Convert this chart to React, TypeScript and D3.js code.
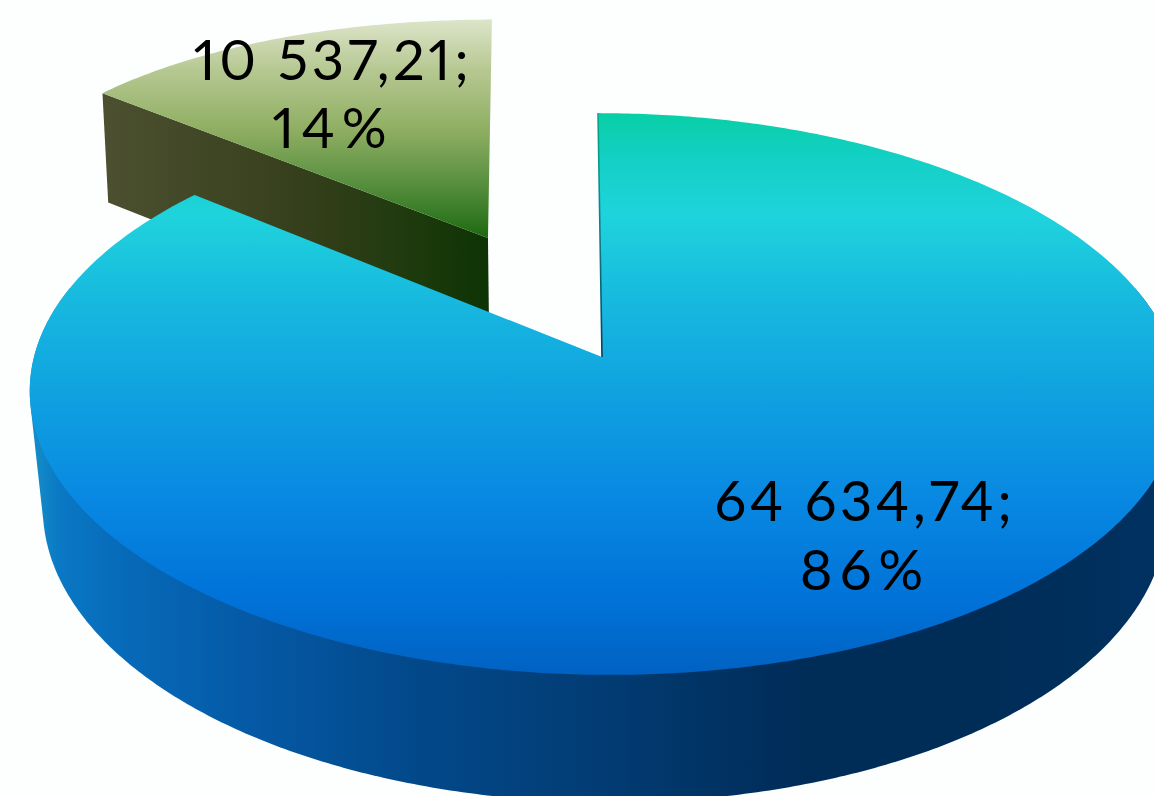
import React, { useMemo } from "react";
import * as d3 from "d3";

// Two slices of the exploded 3D pie
const categories = ["main", "other"];
const seriesValues = [64634.74, 10537.21];
const valueLabels = ["64 634,74;", "10 537,21;"];
const percentLabels = ["86%", "14%"];

const WIDTH = 1154;
const HEIGHT = 796;
const CX = 604;

type Plane = { ox: number; oy: number; ax: number; ay: number; kx: number; ky: number; skew: number };
// Upper and lower surfaces of the disc, as projective planes
const TOP: Plane = { ox: CX, oy: 357, ax: 570, ay: 276, kx: -0.1317, ky: -0.1317, skew: 6 };
const BOTTOM: Plane = { ox: CX, oy: 473, ax: 557, ay: 286, kx: -0.1317, ky: -0.1317, skew: 6 };
// The pulled-out slice is seen with a flatter horizontal perspective
const OTHER_TOP: Plane = { ox: CX, oy: 357, ax: 523, ay: 276, kx: -0.036, ky: -0.1317, skew: 0 };
const OTHER_BOTTOM: Plane = { ox: CX, oy: 476, ax: 517, ay: 286, kx: -0.036, ky: -0.1317, skew: 0 };
// How far the small slice is pulled out, in disc units
const EXPLODE = { u: -0.2255, v: -0.457 };
const APEX_NUDGE = -0.0035;

const project = (p: Plane, u: number, v: number): [number, number] => [
  p.ox + (p.ax * u) / (1 + p.kx * v) + p.skew * v,
  p.oy + (p.ay * v) / (1 + p.ky * v),
];

const rim = (p: Plane, a0: number, a1: number, shift = { u: 0, v: 0 }) => {
  const n = Math.max(2, Math.ceil(Math.abs(a1 - a0) / 0.01));
  return d3.range(n + 1).map((i) => {
    const a = a0 + ((a1 - a0) * i) / n;
    return project(p, Math.sin(a) + shift.u, -Math.cos(a) + shift.v);
  });
};

const line = d3.line<[number, number]>();
const rad = (deg: number) => (deg * Math.PI) / 180;

// Silhouette of the disc wall over an angular range: the convex hull of both rims
const wallHull = (a0: number, a1: number) => {
  const hull = d3.polygonHull([...rim(TOP, a0, a1), ...rim(BOTTOM, a0, a1)]);
  return line(hull as [number, number][])! + "Z";
};

type Stop = [number, string];
const topStops: Stop[] = [
  [113, "#08cfa6"],
  [160, "#14d0c6"],
  [215, "#1fd3dc"],
  [300, "#17b9df"],
  [400, "#0fa0e0"],
  [500, "#0888e2"],
  [600, "#0072d8"],
  [675, "#0062c2"],
];
const sideStops: Stop[] = [
  [30, "#1590c8"],
  [60, "#0a78c4"],
  [130, "#0669b8"],
  [260, "#0558a4"],
  [400, "#024a8c"],
  [600, "#023c74"],
  [800, "#002c58"],
  [1000, "#002d58"],
  [1154, "#003160"],
];
const greenTopStops: Stop[] = [
  [17, "#dfe6cc"],
  [70, "#b6c892"],
  [130, "#8fae62"],
  [185, "#568e3e"],
  [238, "#1c6a10"],
];
const greenSideStops: Stop[] = [
  [104, "#4c5030"],
  [300, "#363f1c"],
  [420, "#1c3a0c"],
  [488, "#0e3304"],
];

const Gradient = ({ id, stops, horizontal }: { id: string; stops: Stop[]; horizontal?: boolean }) => {
  const lo = stops[0][0];
  const hi = stops[stops.length - 1][0];
  const ends = horizontal ? { x1: lo, x2: hi, y1: 0, y2: 0 } : { x1: 0, x2: 0, y1: lo, y2: hi };
  return (
    <linearGradient id={id} gradientUnits="userSpaceOnUse" {...ends}>
      {stops.map(([at, color]) => (
        <stop key={at} offset={(at - lo) / (hi - lo)} stopColor={color} />
      ))}
    </linearGradient>
  );
};

export default function App() {
  const shapes = useMemo(() => {
    const arcs = d3.pie<number>().sort(null)(seriesValues);
    const main = arcs[0];
    const other = arcs[1];

    const apex = project(TOP, APEX_NUDGE, 0);
    const mainTop = line([apex, ...rim(TOP, main.startAngle, main.endAngle)])! + "Z";
    // Outer wall of the large slice, in two overlapping halves so the gap stays open
    const wallRight = wallHull(rad(75), rad(185));
    const wallLeft = wallHull(rad(175), rad(285));
    const cutEdge = line([project(TOP, 0, -1), apex])!;

    const otherApex = project(OTHER_TOP, EXPLODE.u, EXPLODE.v);
    const otherApexLow = project(OTHER_BOTTOM, EXPLODE.u, EXPLODE.v);
    const otherTop =
      line([otherApex, ...rim(OTHER_TOP, other.startAngle, other.endAngle, EXPLODE)])! + "Z";
    const s = other.startAngle;
    const corner = project(OTHER_TOP, Math.sin(s) + EXPLODE.u, -Math.cos(s) + EXPLODE.v);
    const cornerLow = project(OTHER_BOTTOM, Math.sin(s) + EXPLODE.u, -Math.cos(s) + EXPLODE.v);
    const otherWall = line([corner, otherApex, otherApexLow, cornerLow])! + "Z";

    return { mainTop, wallRight, wallLeft, cutEdge, otherTop, otherWall };
  }, []);

  const labelFont = {
    fontFamily: "Lato, sans-serif",
    fontWeight: 400,
    fontSize: 56,
    letterSpacing: 3.6,
    fill: "#000",
    textAnchor: "middle" as const,
    style: { fontVariantNumeric: "proportional-nums" },
  };
  const percentSpacing = 7;

  return (
    <svg
      width={WIDTH}
      height={HEIGHT}
      viewBox={`0 0 ${WIDTH} ${HEIGHT}`}
      style={{ position: "absolute", left: 0, top: 0, background: "#fdfefe" }}
    >
      <defs>
        <Gradient id="mainTop" stops={topStops} />
        <Gradient id="mainSide" stops={sideStops} horizontal />
        <Gradient id="otherTop" stops={greenTopStops} />
        <Gradient id="otherSide" stops={greenSideStops} horizontal />
        <linearGradient id="cut" gradientUnits="userSpaceOnUse" x1={0} x2={0} y1={113} y2={357}>
          <stop offset={0} stopColor="#08a88c" />
          <stop offset={0.5} stopColor="#0a7f8c" />
          <stop offset={1} stopColor="#063f55" />
        </linearGradient>
      </defs>

      <g data-category={categories[1]}>
        <path d={shapes.otherWall} fill="url(#otherSide)" />
        <path d={shapes.otherTop} fill="url(#otherTop)" />
      </g>
      <g data-category={categories[0]}>
        <path d={shapes.wallRight} fill="url(#mainSide)" />
        <path d={shapes.wallLeft} fill="url(#mainSide)" />
        <path d={shapes.mainTop} fill="url(#mainTop)" />
        <path d={shapes.cutEdge} fill="none" stroke="url(#cut)" strokeWidth={1.6} />
      </g>

      <g {...labelFont}>
        <text x={333} y={80}>{valueLabels[1]}</text>
        <text x={333} y={148} letterSpacing={percentSpacing}>{percentLabels[1]}</text>
        <text x={865} y={521}>{valueLabels[0]}</text>
        <text x={865} y={590} letterSpacing={percentSpacing}>{percentLabels[0]}</text>
      </g>
    </svg>
  );
}
